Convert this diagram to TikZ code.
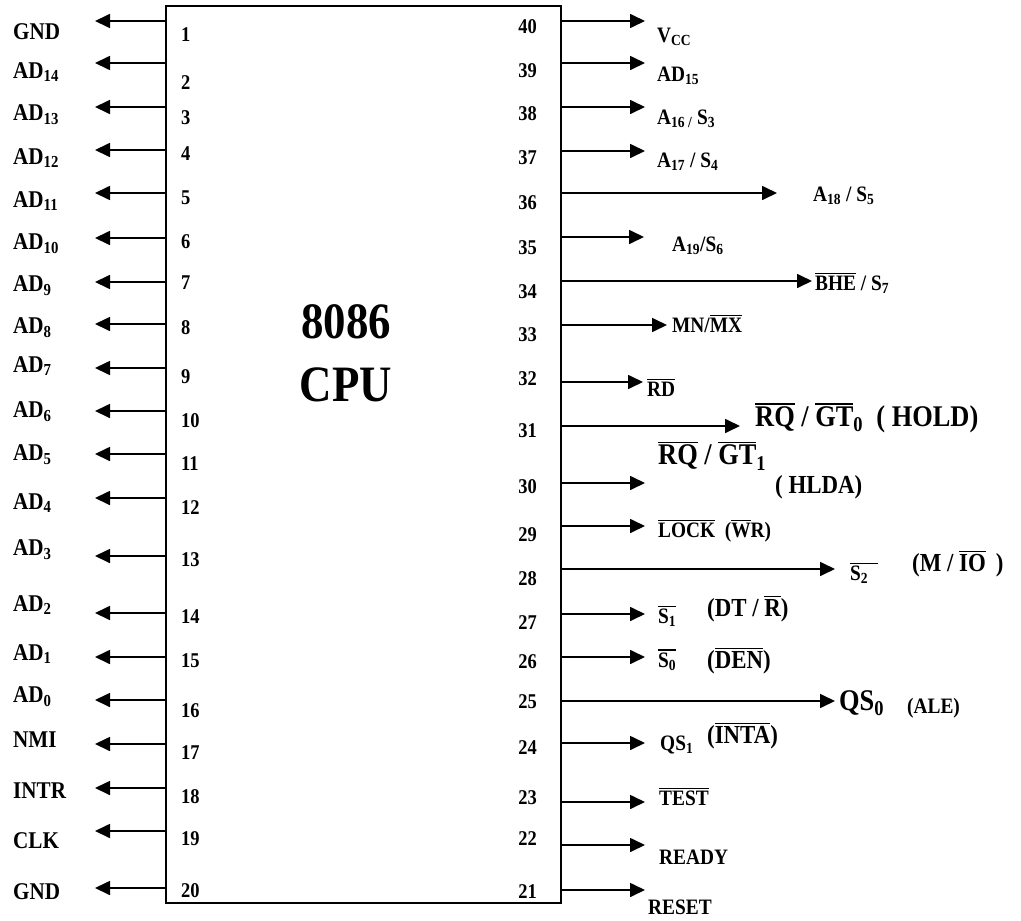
\documentclass[tikz,border=0pt]{standalone}
\usepackage{fontspec}
\setmainfont[FakeStretch=0.88]{Liberation Serif}
\usetikzlibrary{arrows.meta}

\newcommand{\ovl}[1]{\leavevmode\vbox{\hrule height 1.3pt\kern 2pt\hbox{#1}}}
\newcommand{\sub}[1]{\textsubscript{#1}}

\tikzset{
  sig/.style={line width=1.7pt, -{Triangle[length=15pt,width=14pt]}},
  lbl/.style={font=\fontsize{24}{28}\bfseries\selectfont, inner sep=0pt, anchor=west},
  num/.style={font=\fontsize{21}{24}\bfseries\selectfont, inner sep=0pt, anchor=west},
  rnum/.style={num, anchor=east},
  rlbl/.style={font=\fontsize{22}{26}\bfseries\selectfont, inner sep=0pt, anchor=west},
  mid/.style={font=\fontsize{26}{30}\bfseries\selectfont, inner sep=0pt, anchor=west},
  big/.style={font=\fontsize{30}{34}\bfseries\selectfont, inner sep=0pt, anchor=west},
  title/.style={font=\fontsize{51}{56}\bfseries\selectfont, inner sep=0pt}
}

\begin{document}
\begin{tikzpicture}[x=1pt, y=-1pt]
  \useasboundingbox (0,0) rectangle (1021,921);

  % Chip body
  \node[draw, line width=1.5pt, minimum width=395pt, minimum height=897pt, inner sep=0pt] (cpu) at (363.5,454.5) {};
  \node[title] (t8086) at (346,322) {8086};
  \node[title] (tcpu) at (346,385) {CPU};

  % Left pins 1..20
  \foreach \n/\ay/\ny/\ly/\lab in {1/21/35/32/GND, 2/63/83/72/AD\sub{14}, 3/107/118/115/AD\sub{13},
      4/150/154/158/AD\sub{12}, 5/193/198/201/AD\sub{11}, 6/238/242/244/AD\sub{10},
      7/282/283/286/AD\sub{9}, 8/324/328/328/AD\sub{8}, 9/368/377/366/AD\sub{7},
      10/411/421/412/AD\sub{6}, 11/454/464/455/AD\sub{5}, 12/498/508/503/AD\sub{4},
      13/556/560/550/AD\sub{3}, 14/613/617/605/AD\sub{2}, 15/657/661/654/AD\sub{1},
      16/700/711/697/AD\sub{0}, 17/744/753/740/NMI, 18/788/797/791/INTR,
      19/831/839/841/CLK, 20/888/891/892/GND}{
    \coordinate (ls\n) at (166,\ay);
    \coordinate (lt\n) at (95,\ay);
    \draw[sig] (ls\n) -- (lt\n);
    \node[num] (ln\n) at (181,\ny) {\n};
    \node[lbl] (l\n) at (13,\ly) {\lab};
  }

  % Right pins 21..40
  \foreach \n/\ay/\tx/\ny in {40/21/645/27, 39/63/645/71, 38/107/645/114, 37/151/645/158,
      36/193/777/203, 35/237/644/248, 34/281/812/292, 33/325/667/335, 32/382/643/379,
      31/426/740/431, 30/483/645/487, 29/526/645/535, 28/569/835/579, 27/614/645/623,
      26/657/645/662, 25/701/835/702, 24/743/645/748, 23/802/645/798, 22/845/645/839,
      21/890/645/892}{
    \coordinate (rs\n) at (561,\ay);
    \coordinate (rt\n) at (\tx,\ay);
    \draw[sig] (rs\n) -- (rt\n);
    \node[rnum] (rn\n) at (537,\ny) {\n};
  }

  % Right labels
  \node[rlbl] (r40) at (657,37) {V\sub{CC}};
  \node[rlbl] (r39) at (657,76) {AD\sub{15}};
  \node[rlbl] (r38) at (657,119) {A\sub{16 /} S\sub{3}};
  \node[rlbl] (r37) at (657,162) {A\sub{17} / S\sub{4}};
  \node[rlbl] (r36) at (813,196) {A\sub{18} / S\sub{5}};
  \node[rlbl] (r35) at (672,246) {A\sub{19}/S\sub{6}};
  \node[rlbl] (r34) at (815,283) {\ovl{BHE} / S\sub{7}};
  \node[rlbl] (r33) at (672,324) {MN/\ovl{MX}};
  \node[rlbl] (r32) at (647,388) {\ovl{RD}};
  \node[big] (r31) at (755,418) {\ovl{RQ} / \ovl{GT}\sub{0} \ ( HOLD)};
  \node[big] (r30) at (658,456) {\ovl{RQ} / \ovl{GT}\sub{1}};
  \node[mid] (r30b) at (775,487) {( HLDA)};
  \node[rlbl] (r29) at (658,531) {\ovl{LOCK} \ (\ovl{W}R)};
  \node[rlbl] (r28) at (850,573) {\ovl{S\sub{2}\hspace{10pt}}};
  \node[mid] (r28b) at (912,564) {(M / \ovl{IO}\ \,)};
  \node[rlbl] (r27) at (658,616) {\ovl{S\sub{1}}};
  \node[mid] (r27b) at (707,609) {(DT / \ovl{R})};
  \node[rlbl] (r26) at (658,660) {\ovl{S\sub{0}}};
  \node[mid] (r26b) at (707,661) {(\ovl{DEN})};
  \node[big] (r25) at (839,703) {QS\sub{0}};
  \node[rlbl] (r25b) at (907,708) {(ALE)};
  \node[rlbl] (r24) at (660,745) {QS\sub{1}};
  \node[mid] (r24b) at (707,736) {(\ovl{INTA})};
  \node[rlbl] (r23) at (659,797) {\ovl{TEST}};
  \node[rlbl] (r22) at (659,857) {READY};
  \node[rlbl] (r21) at (648,907) {RESET};
\end{tikzpicture}
\end{document}
